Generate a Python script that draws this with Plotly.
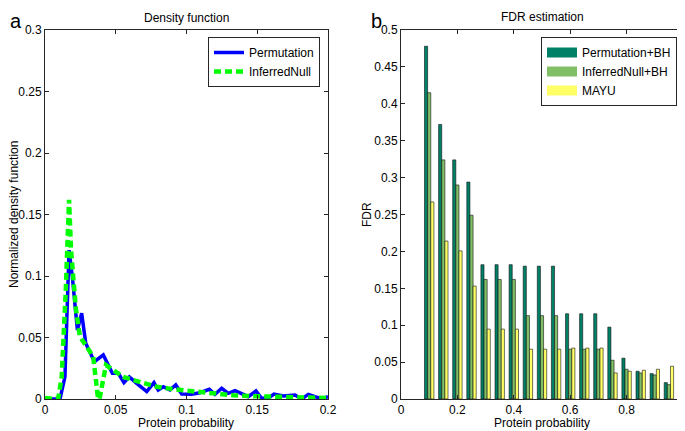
import plotly.graph_objects as go

# ---- panel a: density curves ----
perm_x = [0, 0.0106, 0.0141, 0.017, 0.0193, 0.0229, 0.0259, 0.0288, 0.0349, 0.0412,
          0.0476, 0.0518, 0.0558, 0.0596, 0.0648, 0.0719, 0.077, 0.080, 0.0836, 0.0883,
          0.0924, 0.0966, 0.1037, 0.1095, 0.1161, 0.1201, 0.1249, 0.1295, 0.1343, 0.139,
          0.1437, 0.1491, 0.1531, 0.1578, 0.1618, 0.1684, 0.1767, 0.1814, 0.1861, 0.1908,
          0.1955, 0.2]
perm_y = [0, 0, 0.018, 0.121, 0.0995, 0.056, 0.0697, 0.0453, 0.0303, 0.0358,
          0.0209, 0.0209, 0.0133, 0.018, 0.0127, 0.006, 0.0133, 0.0073, 0.010, 0.0073,
          0.0114, 0.004, 0.0038, 0.0051, 0.0079, 0.0038, 0.0087, 0.0046, 0.0068, 0.0046,
          0.0019, 0.0065, 0.0006, 0.0006, 0.004, 0.0024, 0.0033, 0.0, 0.0038, 0.0019,
          0.0003, 0.0019]

null_x = [0, 0.0059, 0.0094, 0.0118, 0.0146, 0.017, 0.0184, 0.0219, 0.0247, 0.0299,
          0.0341, 0.0375, 0.0385, 0.0431, 0.0495, 0.0553, 0.0624, 0.0695, 0.0789, 0.0907,
          0.1001, 0.1095, 0.1213, 0.1331, 0.1449, 0.1567, 0.1684, 0.1802, 0.2]
null_y = [0.0008, 0, 0.0008, 0.018, 0.086, 0.162, 0.121, 0.0724, 0.0507, 0.0425,
          0.0344, 0.0, 0.0, 0.0276, 0.022, 0.018, 0.0154, 0.0127, 0.010, 0.0079,
          0.0068, 0.0051, 0.004, 0.003, 0.0024, 0.0019, 0.0014, 0.0011, 0.0008]

# ---- panel b: FDR bars ----
prob = [0.1, 0.15, 0.2, 0.25, 0.3, 0.35, 0.4, 0.45, 0.5, 0.55,
        0.6, 0.65, 0.7, 0.75, 0.8, 0.85, 0.9, 0.95]
fdr_perm = [0.478, 0.372, 0.324, 0.294, 0.182, 0.182, 0.182, 0.180, 0.180, 0.180,
            0.1155, 0.1155, 0.1155, 0.0974, 0.0553, 0.0376, 0.0344, 0.0222]
fdr_null = [0.415, 0.324, 0.290, 0.249, 0.162, 0.162, 0.162, 0.113, 0.113, 0.113,
            0.0675, 0.0675, 0.0675, 0.0525, 0.0403, 0.0353, 0.0326, 0.0195]
fdr_mayu = [0.267, 0.214, 0.2007, 0.153, 0.0947, 0.0947, 0.0947, 0.0675, 0.0675, 0.0675,
            0.069, 0.069, 0.069, 0.0353, 0.0376, 0.039, 0.0403, 0.0444]

# page body has an 8px margin, so the figure is drawn 8px in from the window corner
OFF = 8
W, H = 685 - OFF, 431 - OFF
FONT = "Liberation Sans, Arial, sans-serif"
AX = "#262626"


def px_x(p):
    return (p - OFF) / W


def px_y(p):
    return 1 - (p - OFF) / H


fig = go.Figure()
fig.add_trace(go.Scatter(x=perm_x, y=perm_y, mode="lines", name="Permutation",
                         line=dict(color="#0000ff", width=3.5), xaxis="x", yaxis="y",
                         legend="legend"))
fig.add_trace(go.Scatter(x=null_x, y=null_y, mode="lines", name="InferredNull",
                         line=dict(color="#00ff00", width=4.5, dash="7px,4px"),
                         xaxis="x", yaxis="y", legend="legend"))

for name, vals, col in [("Permutation+BH", fdr_perm, "rgb(0,128,102)"),
                        ("InferredNull+BH", fdr_null, "rgb(128,191,102)"),
                        ("MAYU", fdr_mayu, "rgb(255,255,102)")]:
    fig.add_trace(go.Bar(x=prob, y=vals, name=name, xaxis="x2", yaxis="y2",
                         marker=dict(color=col, line=dict(color="#111111", width=0.6)),
                         legendgroup=name, showlegend=False))
    # legend-only entry: a thick line gives a wide box like the Matlab legend
    fig.add_trace(go.Scatter(x=[None], y=[None], mode="lines", name=name,
                             line=dict(color=col, width=11),
                             xaxis="x2", yaxis="y2", legendgroup=name, legend="legend2"))

ydom = [px_y(399), px_y(30)]
axcommon = dict(showline=True, linecolor=AX, linewidth=1, mirror="ticks",
                ticks="inside", ticklen=4, tickcolor=AX, showgrid=False,
                zeroline=False, automargin=False, tickfont=dict(size=12, color="#000"))


def label(text, x, y, size=12, angle=0, xanchor="center", yanchor="middle"):
    return dict(text=text, x=px_x(x), y=px_y(y), xref="paper", yref="paper",
                xanchor=xanchor, yanchor=yanchor, textangle=angle,
                showarrow=False, font=dict(size=size))


fig.update_layout(
    width=W, height=H,
    margin=dict(l=0, r=0, t=0, b=0, autoexpand=False),
    paper_bgcolor="white", plot_bgcolor="white",
    font=dict(family=FONT, color="#000"),
    barmode="group", bargap=0.333, bargroupgap=0,
    xaxis=dict(domain=[px_x(45), px_x(328)], range=[0, 0.2], tickvals=[0, 0.05, 0.1, 0.15, 0.2],
               ticktext=["0", "0.05", "0.1", "0.15", "0.2"], anchor="y", **axcommon),
    yaxis=dict(domain=ydom, range=[0, 0.3], tickvals=[0, 0.05, 0.1, 0.15, 0.2, 0.25, 0.3],
               ticktext=["0", "0.05", "0.1", "0.15", "0.2", "0.25", "0.3"], anchor="x",
               **axcommon),
    xaxis2=dict(domain=[px_x(401), px_x(683)], range=[0, 1], tickvals=[0, 0.2, 0.4, 0.6, 0.8, 1],
                ticktext=["0", "0.2", "0.4", "0.6", "0.8", "1"], anchor="y2", **axcommon),
    yaxis2=dict(domain=ydom, range=[0, 0.5],
                tickvals=[0, 0.05, 0.1, 0.15, 0.2, 0.25, 0.3, 0.35, 0.4, 0.45, 0.5],
                ticktext=["0", "0.05", "0.1", "0.15", "0.2", "0.25", "0.3", "0.35", "0.4", "0.45", "0.5"],
                anchor="x2", **axcommon),
    legend=dict(x=px_x(320), y=px_y(37), xanchor="right", yanchor="top",
                bgcolor="white", bordercolor=AX, borderwidth=1,
                font=dict(size=12), tracegroupgap=0, itemwidth=30),
    legend2=dict(x=px_x(677), y=px_y(37), xanchor="right", yanchor="top",
                 bgcolor="white", bordercolor=AX, borderwidth=1,
                 font=dict(size=12), tracegroupgap=0, itemwidth=30),
    annotations=[
        label("Density function", 186, 18),
        label("FDR estimation", 542, 17),
        label("Protein probability", 186, 423),
        label("Protein probability", 542, 423),
        label("Normalized density function", 14, 215, angle=-90),
        label("FDR", 367, 215, angle=-90),
        label("a", 8, 8, size=20, xanchor="left", yanchor="top"),
        label("b", 369, 8, size=20, xanchor="left", yanchor="top"),
    ],
)

fig.write_html("out.html")
